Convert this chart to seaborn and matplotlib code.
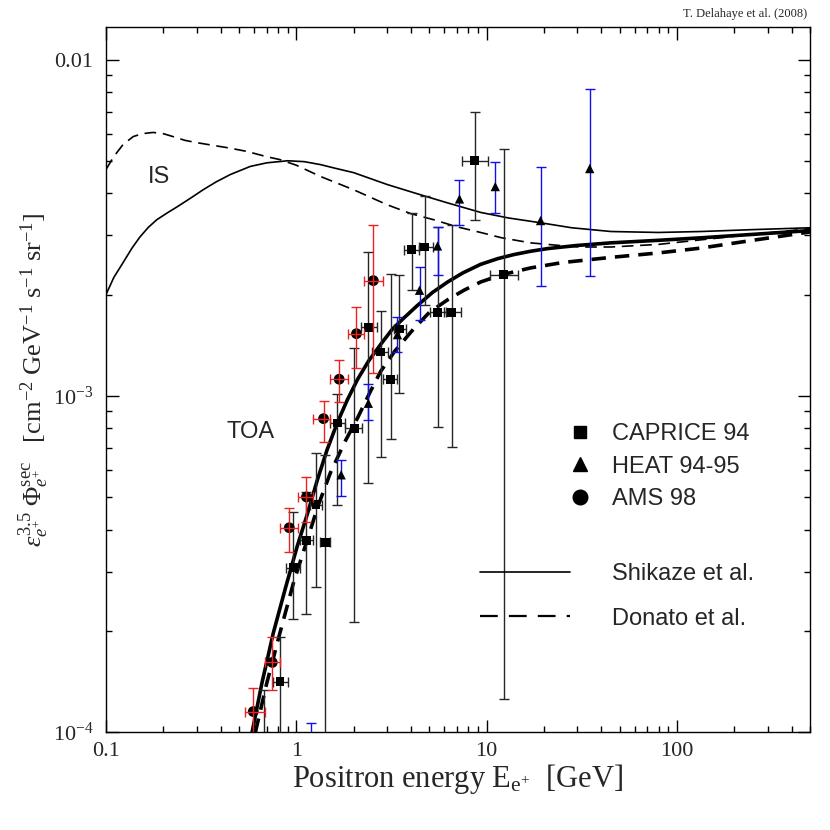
import numpy as np
import pandas as pd
import seaborn as sns
import matplotlib.pyplot as plt
import matplotlib.ticker as mticker
from matplotlib.lines import Line2D

# --- model curves (energy in GeV, E^3.5 * flux) ---
is_shikaze_E = [0.1, 0.11, 0.123, 0.137, 0.151, 0.167, 0.185, 0.21, 0.237, 0.28, 0.324, 0.38, 0.45, 0.573, 0.7,
                0.9, 1.1, 1.34, 1.6, 2.0, 3.0, 4.5, 6.2, 9.3, 13, 19.2, 28, 45, 80, 134, 250, 500]
is_shikaze_y = [2.00e-3, 2.25e-3, 2.49e-3, 2.75e-3, 2.97e-3, 3.17e-3, 3.34e-3, 3.50e-3, 3.65e-3, 3.88e-3, 4.10e-3,
                4.33e-3, 4.55e-3, 4.81e-3, 4.93e-3, 5.00e-3, 4.97e-3, 4.87e-3, 4.75e-3, 4.61e-3, 4.25e-3, 3.96e-3,
                3.75e-3, 3.51e-3, 3.38e-3, 3.27e-3, 3.16e-3, 3.08e-3, 3.06e-3, 3.08e-3, 3.12e-3, 3.16e-3]

is_donato_E = [0.1, 0.11, 0.123, 0.139, 0.155, 0.177, 0.2, 0.225, 0.26, 0.30, 0.37, 0.45, 0.55, 0.70, 0.82, 1.0,
               1.34, 2.0, 3.0, 4.0, 5.26, 7, 9.3, 12, 17, 24, 31, 45, 80, 134, 250, 500]
is_donato_y = [4.71e-3, 5.15e-3, 5.59e-3, 5.90e-3, 6.02e-3, 6.07e-3, 6.02e-3, 5.90e-3, 5.75e-3, 5.66e-3, 5.55e-3,
               5.45e-3, 5.33e-3, 5.14e-3, 5.04e-3, 4.85e-3, 4.49e-3, 4.10e-3, 3.70e-3, 3.48e-3, 3.34e-3, 3.18e-3,
               3.06e-3, 2.95e-3, 2.85e-3, 2.80e-3, 2.77e-3, 2.77e-3, 2.82e-3, 2.91e-3, 3.02e-3, 3.14e-3]

toa_shikaze_E = [0.55, 0.586, 0.66, 0.757, 0.88, 1.01, 1.15, 1.29, 1.45, 1.64, 1.85, 2.1, 2.4, 2.77, 3.2, 3.7, 4.3,
                 5.2, 6.24, 7.5, 9.3, 11.5, 13.9, 17, 20.9, 30, 45, 80, 134, 250, 500]
toa_shikaze_y = [8.5e-5, 1.0e-4, 1.4e-4, 1.97e-4, 2.7e-4, 3.56e-4, 4.5e-4, 5.62e-4, 6.9e-4, 8.3e-4, 9.7e-4, 1.12e-3,
                 1.27e-3, 1.42e-3, 1.58e-3, 1.71e-3, 1.85e-3, 2.03e-3, 2.18e-3, 2.32e-3, 2.46e-3, 2.56e-3, 2.63e-3,
                 2.69e-3, 2.74e-3, 2.80e-3, 2.85e-3, 2.90e-3, 2.95e-3, 3.02e-3, 3.10e-3]

toa_donato_E = [0.58, 0.61, 0.7, 0.82, 0.97, 1.14, 1.3, 1.51, 1.8, 2.1, 2.45, 2.77, 3.3, 4.13, 5.0, 6.24, 7.6, 9.3,
                12, 17, 25, 45, 80, 134, 250, 500]
toa_donato_y = [8.5e-5, 1.0e-4, 1.4e-4, 1.97e-4, 2.8e-4, 3.72e-4, 4.7e-4, 5.9e-4, 7.3e-4, 8.6e-4, 1.03e-3, 1.18e-3,
                1.36e-3, 1.58e-3, 1.77e-3, 1.93e-3, 2.06e-3, 2.18e-3, 2.29e-3, 2.40e-3, 2.49e-3, 2.58e-3, 2.66e-3,
                2.75e-3, 2.90e-3, 3.07e-3]

# --- data points ---
caprice_E = [0.68, 0.82, 0.963, 1.13, 1.27, 1.42, 1.64, 2.02, 2.39, 2.77, 3.13, 3.48, 4.03, 4.72, 5.52, 6.55, 8.65, 12.3]
caprice_flux = [8.0e-5, 1.41e-4, 3.08e-4, 3.72e-4, 4.74e-4, 3.67e-4, 8.3e-4, 8.0e-4, 1.6e-3, 1.35e-3, 1.12e-3,
                1.58e-3, 2.72e-3, 2.77e-3, 1.77e-3, 1.77e-3, 5.0e-3, 2.29e-3]
caprice_lo = [5e-5, 5e-5, 2.17e-4, 2.24e-4, 2.7e-4, 5e-5, 4.74e-4, 2.12e-4, 5.5e-4, 6.59e-4, 7.43e-4, 1.02e-3,
              2.07e-3, 1.86e-3, 8.05e-4, 7.05e-4, 3.33e-3, 1.25e-4]
caprice_hi = [1.33e-4, 1.92e-4, 4.51e-4, 5.18e-4, 6.77e-4, 6.67e-4, 1.01e-3, 1.39e-3, 2.67e-3, 1.79e-3, 2.3e-3,
              2.28e-3, 3.5e-3, 3.94e-3, 3.17e-3, 3.22e-3, 7.0e-3, 5.43e-3]
caprice_Elo = [0.68, 0.757, 0.885, 1.05, 1.185, 1.337, 1.51, 1.81, 2.2, 2.51, 2.87, 3.28, 3.66, 4.39, 5.07, 5.94, 7.39, 10.4]
caprice_Ehi = [0.68, 0.908, 1.05, 1.229, 1.37, 1.51, 1.81, 2.22, 2.64, 3.05, 3.4, 3.75, 4.39, 5.2, 6.08, 7.3, 10.2, 14.7]

heat_E = [1.2, 1.72, 2.39, 3.4, 4.44, 5.52, 7.2, 11.1, 19.2, 34.8]
heat_flux = [8.0e-5, 5.82e-4, 9.5e-4, 1.52e-3, 2.06e-3, 2.79e-3, 3.85e-3, 4.19e-3, 3.32e-3, 4.74e-3]
heat_lo = [6e-5, 5.04e-4, 8.48e-4, 1.35e-3, 1.68e-3, 2.29e-3, 3.21e-3, 3.5e-3, 2.12e-3, 2.27e-3]
heat_hi = [1.06e-4, 6.45e-4, 1.085e-3, 1.71e-3, 2.41e-3, 3.17e-3, 4.39e-3, 4.97e-3, 4.8e-3, 8.2e-3]

ams_E = [0.594, 0.748, 0.918, 1.13, 1.39, 1.68, 2.07, 2.54]
ams_flux = [1.15e-4, 1.61e-4, 4.05e-4, 5.0e-4, 8.55e-4, 1.12e-3, 1.53e-3, 2.2e-3]
ams_lo = [9.5e-5, 1.33e-4, 3.43e-4, 4.21e-4, 7.29e-4, 9.6e-4, 1.21e-3, 1.17e-3]
ams_hi = [1.35e-4, 1.92e-4, 4.65e-4, 5.74e-4, 9.66e-4, 1.28e-3, 1.84e-3, 3.22e-3]
ams_Elo = [0.539, 0.687, 0.824, 1.024, 1.229, 1.51, 1.88, 2.28]
ams_Ehi = [0.687, 0.824, 1.024, 1.229, 1.51, 1.88, 2.28, 2.84]

sns.set_style("ticks")
plt.rcParams['font.family'] = ['Liberation Serif', 'DejaVu Serif']
plt.rcParams['mathtext.fontset'] = 'custom'
plt.rcParams['mathtext.rm'] = 'Liberation Serif'
plt.rcParams['mathtext.it'] = 'Liberation Serif:italic'

fig = plt.figure(figsize=(8.3, 8.3), dpi=100)
ax = fig.add_axes([0.1277, 0.1181, 0.8482, 0.8494])
ax.set_xscale('log')
ax.set_yscale('log')

# curves
sns.lineplot(x=is_shikaze_E, y=is_shikaze_y, ax=ax, color='k', lw=1.2, zorder=3)
sns.lineplot(x=is_donato_E, y=is_donato_y, ax=ax, color='k', lw=1.2, linestyle=(0, (7, 4)), zorder=3)
sns.lineplot(x=toa_shikaze_E, y=toa_shikaze_y, ax=ax, color='k', lw=2.6, zorder=3)
sns.lineplot(x=toa_donato_E, y=toa_donato_y, ax=ax, color='k', lw=2.6, linestyle=(0, (4, 2.5)), zorder=3)


def draw_set(E, flux, lo, hi, Elo, Ehi, ecol, marker, size, bar_z, mark_z):
    df = pd.DataFrame({'E': E, 'flux': flux})
    yerr = [np.array(flux) - np.array(lo), np.array(hi) - np.array(flux)]
    xerr = None
    if Elo is not None:
        xerr = [np.array(E) - np.array(Elo), np.array(Ehi) - np.array(E)]
    ax.errorbar(E, flux, yerr=yerr, xerr=xerr, fmt='none', ecolor=ecol, elinewidth=1.0,
                capsize=3.5, capthick=1.0, zorder=bar_z)
    sns.scatterplot(data=df, x='E', y='flux', marker=marker, s=size, color='k', edgecolor='none',
                    ax=ax, zorder=mark_z, legend=False)


draw_set(caprice_E, caprice_flux, caprice_lo, caprice_hi, caprice_Elo, caprice_Ehi, '0.15', 's', 40, 4, 5)
draw_set(heat_E, heat_flux, heat_lo, heat_hi, None, None, '#1010ee', '^', 45, 4, 5)
draw_set(ams_E, ams_flux, ams_lo, ams_hi, ams_Elo, ams_Ehi, '#ee2020', 'o', 60, 6, 5)

ax.set_xlim(0.1, 500)
ax.set_ylim(1e-4, 0.0125)

ax.xaxis.set_major_locator(mticker.FixedLocator([0.1, 1, 10, 100]))
ax.xaxis.set_major_formatter(mticker.FixedFormatter(['0.1', '1', '10', '100']))
ax.yaxis.set_major_locator(mticker.FixedLocator([1e-4, 1e-3, 1e-2]))
ax.yaxis.set_major_formatter(mticker.FixedFormatter([r'$10^{-4}$', r'$10^{-3}$', '0.01']))
ax.xaxis.set_minor_locator(mticker.LogLocator(base=10, subs=np.arange(2, 10)))
ax.yaxis.set_minor_locator(mticker.LogLocator(base=10, subs=np.arange(2, 10)))
ax.xaxis.set_minor_formatter(mticker.NullFormatter())
ax.yaxis.set_minor_formatter(mticker.NullFormatter())
ax.tick_params(which='both', direction='in', top=True, right=True, color='k', width=1.0)
ax.tick_params(which='major', length=9, labelsize=16)
ax.tick_params(which='minor', length=4.5)
ax.tick_params(axis='x', pad=7)
ax.tick_params(axis='y', pad=9)
for sp in ax.spines.values():
    sp.set_linewidth(1.0)
    sp.set_color('k')

ax.set_xlabel(r'Positron energy $\mathrm{E_{e^{+}}}$  [GeV]', fontsize=22, labelpad=1)
ax.set_ylabel(r'$\epsilon_{e^{+}}^{3.5}\ \Phi_{e^{+}}^{\rm sec}$   $[\mathrm{cm^{-2}\ GeV^{-1}\ s^{-1}\ sr^{-1}}]$',
              fontsize=19)
ax.yaxis.set_label_coords(-0.078, 0.5)

sans = ['Liberation Sans', 'DejaVu Sans']
ax.text(0.19, 4.46e-3, 'IS', fontsize=17, family=sans, ha='center', va='center')
ax.text(0.573, 7.8e-4, 'TOA', fontsize=17, family=sans, ha='center', va='center')
fig.text(0.973, 0.983, 'T. Delahaye et al. (2008)', fontsize=9, ha='right', va='center')

# legends
mark_handles = [
    Line2D([], [], ls='none', marker='s', color='k', markersize=8.5, label='CAPRICE 94'),
    Line2D([], [], ls='none', marker='^', color='k', markersize=9.5, label='HEAT 94-95'),
    Line2D([], [], ls='none', marker='o', color='k', markersize=10.5, label='AMS 98'),
]
leg1 = ax.legend(handles=mark_handles, loc='upper left', bbox_to_anchor=(0.656, 0.438), frameon=False,
                 prop={'family': sans, 'size': 17}, handlelength=1.0, handletextpad=0.86,
                 labelspacing=0.44, borderpad=0, borderaxespad=0)
ax.add_artist(leg1)
line_handles = [
    Line2D([], [], color='k', lw=1.2, label='Shikaze et al.'),
    Line2D([], [], color='k', lw=1.6, ls=(0, (8, 5)), label='Donato et al.'),
]
ax.legend(handles=line_handles, loc='upper left', bbox_to_anchor=(0.531, 0.24), frameon=False,
          prop={'family': sans, 'size': 17}, handlelength=3.8, handletextpad=1.78,
          labelspacing=0.97, borderpad=0, borderaxespad=0)

fig.savefig('out.png', dpi=100)
